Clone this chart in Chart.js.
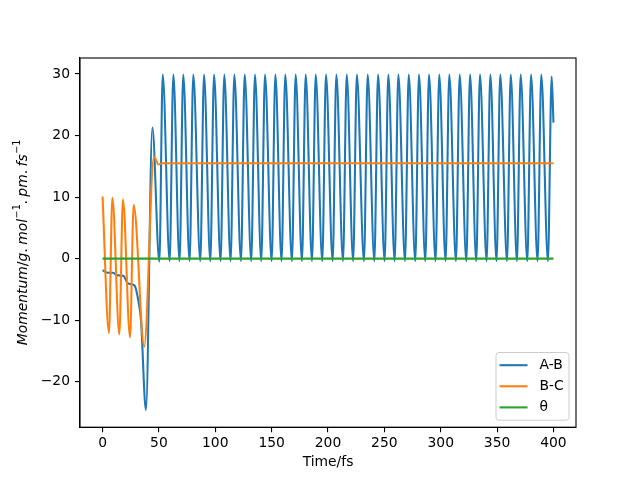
<!DOCTYPE html>
<html>
<head>
<meta charset="utf-8">
<script src="https://cdn.jsdelivr.net/npm/chart.js@4"></script>
<style>
  html, body { margin: 0; padding: 0; background: #fff; }
  canvas { display: block; }
</style>
</head>
<body>
<canvas id="momentumChart" width="640" height="480"></canvas>
<script>
// values (time in fs, momentum)
const abTimes = [
  0, 5.0, 9.5, 12.5, 18.4, 22.3, 26.4, 28.8, 31.7, 34.1, 38.5, 44.2,
  50.4, 53.4, 59.5, 62.8, 68.3, 71.6, 77.2, 80.5, 86.7, 90.0,
  95.6, 98.9, 104.7, 108.0, 113.6, 116.9, 122.8, 126.1, 131.9, 135.2,
  140.8, 144.1, 150.0, 153.3, 158.8, 162.1, 168.0, 171.3, 176.9, 180.2,
  185.8, 189.1, 194.9, 198.2, 204.1, 207.4, 213.3, 216.6, 222.3, 225.6,
  231.9, 235.2, 241.1, 244.4, 250.2, 253.5, 259.1, 262.4, 268.3, 271.6,
  277.4, 280.7, 286.3, 289.6, 295.4, 298.7, 304.3, 307.6, 313.5, 316.8,
  322.7, 326.0, 331.5, 334.8, 340.7, 344.0, 349.5, 352.8, 358.8, 362.1,
  367.6, 370.9, 376.8, 380.1, 385.9, 389.2, 395.1, 398.4, 400
];
const abValues = [
  -1.9, -2.3, -2.3, -2.7, -2.8, -4.0, -4.2, -4.5, -6.8, -10.0, -24.6, 21.3,
  -0.5, 29.9, -0.4, 29.9, -0.4, 29.9, -0.4, 29.9, -0.4, 29.9,
  -0.4, 29.9, -0.4, 29.9, -0.4, 29.9, -0.4, 29.9, -0.4, 29.9,
  -0.4, 29.9, -0.4, 29.9, -0.4, 29.9, -0.4, 29.9, -0.4, 29.9,
  -0.4, 29.9, -0.4, 29.9, -0.4, 29.9, -0.4, 29.9, -0.4, 29.9,
  -0.4, 29.9, -0.4, 29.9, -0.4, 29.9, -0.4, 29.9, -0.4, 29.9,
  -0.4, 29.9, -0.4, 29.9, -0.4, 29.9, -0.4, 29.9, -0.4, 29.9,
  -0.4, 29.9, -0.4, 29.9, -0.4, 29.9, -0.4, 29.9, -0.4, 29.9,
  -0.4, 29.9, -0.4, 29.9, -0.4, 29.9, -0.4, 29.6, 22.1
];

const bcTimes = [0, 5.7, 8.7, 14.9, 18.1, 24.4, 27.6, 37.0, 45.6, 49.5, 53.0, 400];
const bcValues = [10.1, -12.1, 9.9, -12.3, 9.6, -12.8, 8.7, -14.3, 16.6, 15.3, 15.5, 15.5];

const thetaTimes = [0, 400];
const thetaValues = [0, 0];

const seriesLabels = ["A-B", "B-C", "θ"];
const seriesColors = ["#1f77b4", "#ff7f0e", "#2ca02c"];

const xTicks = [0, 50, 100, 150, 200, 250, 300, 350, 400];
const yTicks = [-20, -10, 0, 10, 20, 30];

const FONT = "'DejaVu Sans', sans-serif";
const FS = 13.89;

const toPoints = (xs, ys) => xs.map((x, i) => ({ x: x, y: ys[i] }));

const minusSign = (v) => String(v).replace("-", "\u2212");

// frame, y label (mathtext-like) and legend box drawn by hand
const extrasPlugin = {
  id: "extras",
  afterDraw(chart) {
    const ctx = chart.ctx;
    const a = chart.chartArea;

    ctx.save();
    ctx.strokeStyle = "#000";
    ctx.lineWidth = 1.1;
    ctx.strokeRect(a.left, a.top, a.right - a.left, a.bottom - a.top);
    ctx.restore();

    // y axis label
    const parts = [
      ["Momentum", "i"], ["/", "n"], ["g", "i"], [".", "p"], ["mol", "i"], ["\u22121", "s"],
      [".", "p"], ["pm", "i"], [".", "p"], ["fs", "i"], ["\u22121", "s"]
    ];
    const fontFor = (k) => {
      if (k === "i") return "italic " + FS + "px " + FONT;
      if (k === "s") return (FS * 0.7) + "px " + FONT;
      return FS + "px " + FONT;
    };
    ctx.save();
    let total = 0;
    const widths = parts.map(([t, k]) => {
      ctx.font = fontFor(k);
      let w = ctx.measureText(t).width;
      if (k === "p") w += 3.5;
      total += w;
      return w;
    });
    ctx.translate(26.5, (a.top + a.bottom) / 2);
    ctx.rotate(-Math.PI / 2);
    ctx.fillStyle = "#000";
    ctx.textBaseline = "alphabetic";
    ctx.textAlign = "left";
    let x = -total / 2;
    parts.forEach(([t, k], i) => {
      ctx.font = fontFor(k);
      ctx.fillText(t, x + (k === "s" ? 0.5 : 0), k === "s" ? -6.3 : 0);
      x += widths[i];
    });
    ctx.restore();

    // legend, lower right
    const boxR = a.right - 7;
    const boxB = a.bottom - 7;
    const boxL = boxR - 73;
    const boxT = boxB - 67.7;
    ctx.save();
    ctx.beginPath();
    ctx.roundRect(boxL, boxT, boxR - boxL, boxB - boxT, 3);
    ctx.fillStyle = "rgba(255,255,255,0.8)";
    ctx.fill();
    ctx.strokeStyle = "#cccccc";
    ctx.lineWidth = 1;
    ctx.stroke();
    ctx.font = FS + "px " + FONT;
    ctx.textBaseline = "middle";
    ctx.textAlign = "left";
    chart.data.datasets.forEach((ds, i) => {
      const y = boxT + 12.7 + i * 21.1;
      ctx.beginPath();
      ctx.moveTo(boxL + 3.5, y);
      ctx.lineTo(boxL + 31.5, y);
      ctx.strokeStyle = ds.borderColor;
      ctx.lineWidth = 2.08;
      ctx.stroke();
      ctx.fillStyle = "#000";
      ctx.fillText(ds.label, boxL + 43.5, y);
    });
    ctx.restore();
  }
};

// later series drawn on top, as in the original plot
const datasets = [
  toPoints(abTimes, abValues),
  toPoints(bcTimes, bcValues),
  toPoints(thetaTimes, thetaValues)
].map((pts, i) => ({
  label: seriesLabels[i],
  data: pts,
  order: 2 - i,
  borderColor: seriesColors[i],
  borderWidth: 2.08,
  borderJoinStyle: "round",
  cubicInterpolationMode: "monotone",
  pointRadius: 0,
  fill: false
}));

const tickStyle = { font: { family: FONT, size: FS }, color: "#000" };

new Chart(document.getElementById("momentumChart"), {
  type: "line",
  data: { datasets: datasets },
  options: {
    responsive: false,
    animation: false,
    layout: { padding: { left: 0, right: 64, top: 58, bottom: 0 } },
    plugins: { legend: { display: false }, tooltip: { enabled: false } },
    scales: {
      x: {
        type: "linear",
        min: -20,
        max: 420,
        afterBuildTicks: (scale) => { scale.ticks = xTicks.map((v) => ({ value: v })); },
        afterFit: (scale) => { scale.height = 52.8; },
        ticks: Object.assign({ padding: 3, maxRotation: 0, callback: minusSign }, tickStyle),
        grid: { drawOnChartArea: false, drawTicks: true, tickLength: 5, color: "#000", lineWidth: 1.1 },
        border: { display: true, color: "#000", width: 1.1 },
        title: {
          display: true,
          text: "Time/fs",
          color: "#000",
          font: { family: FONT, size: FS },
          padding: { top: 0, bottom: 9 }
        }
      },
      y: {
        min: -27.4,
        max: 32.6,
        afterBuildTicks: (scale) => { scale.ticks = yTicks.map((v) => ({ value: v })); },
        afterFit: (scale) => { scale.width = 80; },
        ticks: Object.assign({ padding: 5, callback: minusSign }, tickStyle),
        grid: { drawOnChartArea: false, drawTicks: true, tickLength: 5, color: "#000", lineWidth: 1.1 },
        border: { display: true, color: "#000", width: 1.1 }
      }
    }
  },
  plugins: [extrasPlugin]
});
</script>
</body>
</html>
